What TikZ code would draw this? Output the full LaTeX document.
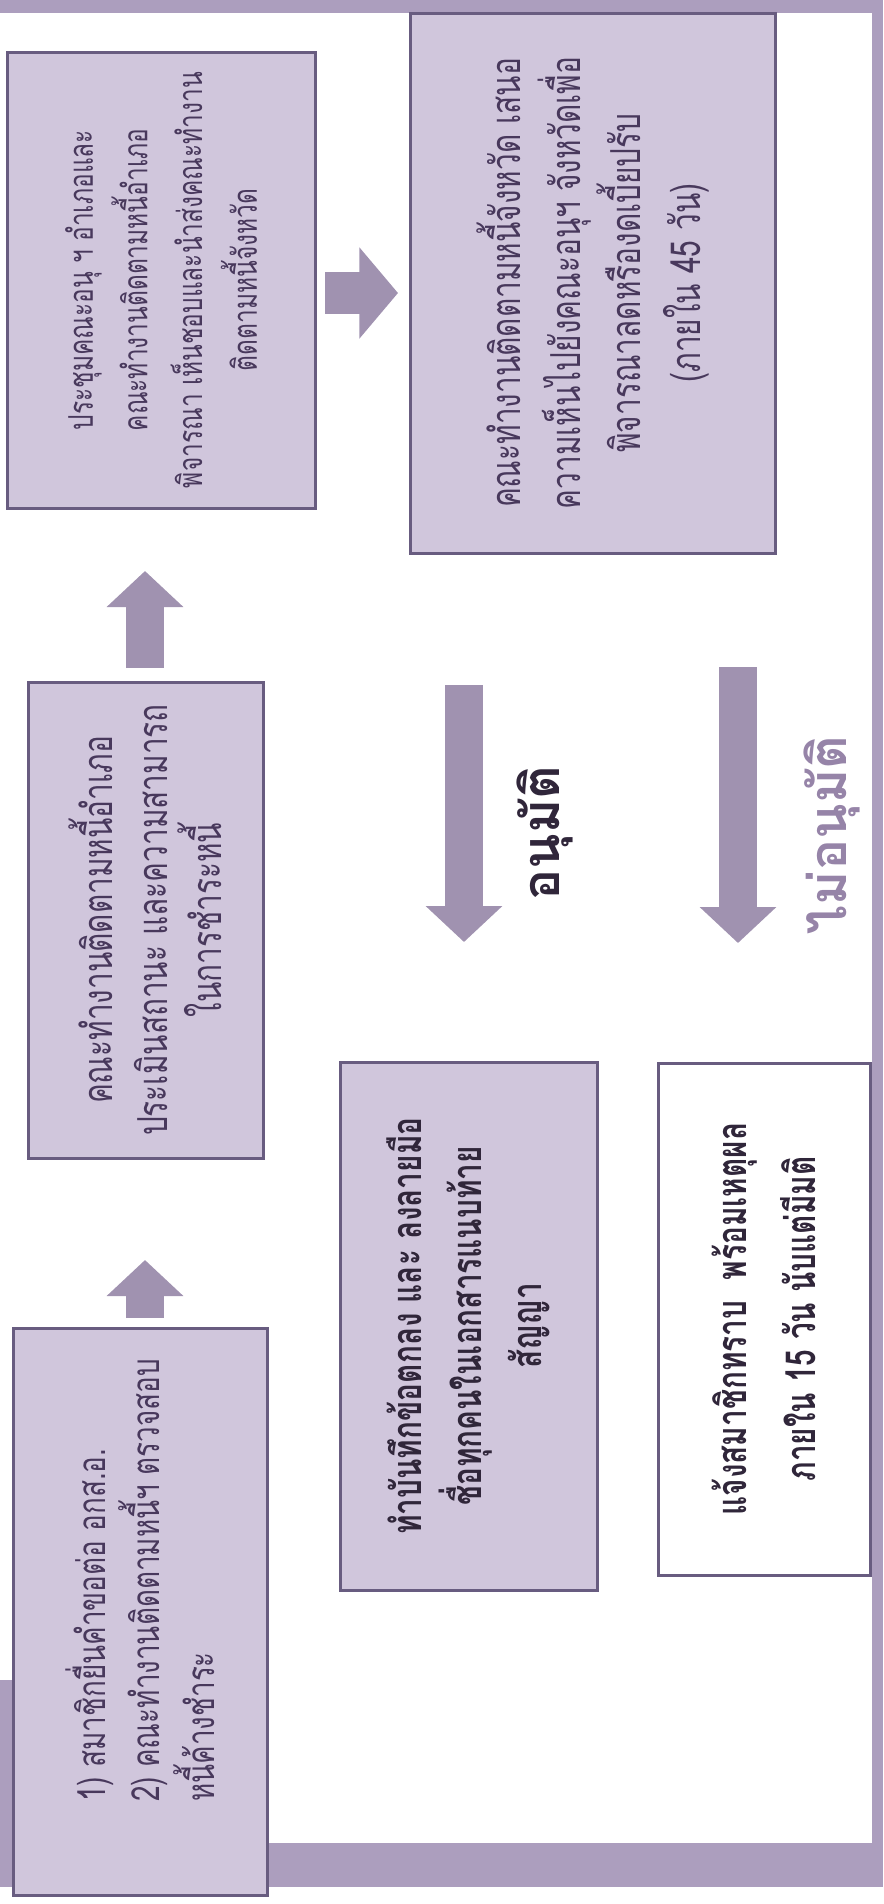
\documentclass[tikz,border=0pt]{standalone}
\usepackage{fontspec}
\newfontfamily\thaifont[Script=Thai,FakeStretch=0.72]{Loma}
\newfontfamily\thailbl[Script=Thai]{Loma}
\usetikzlibrary{arrows.meta,fit}

\definecolor{boxfill}{RGB}{208,198,220}
\definecolor{boxline}{RGB}{104,92,128}
\definecolor{arrowfill}{RGB}{160,146,176}
\definecolor{bandfill}{RGB}{172,158,190}
\definecolor{textcol}{RGB}{72,56,92}
\definecolor{boldcol}{RGB}{48,38,58}
\definecolor{nocol}{RGB}{150,132,168}

\begin{document}
\begin{tikzpicture}[x=0.75pt,y=0.75pt,yscale=-1,xscale=1,
  stepbox/.style={draw=boxline, line width=2.25pt, fill=boxfill, inner sep=0pt},
  boxtext/.style={rotate=90, align=center, inner sep=0pt, text=textcol,
    font=\thaifont\fontsize{31}{41}\selectfont},
  boldtext/.style={boxtext, text=boldcol,
    font=\thaifont\bfseries\fontsize{31}{45}\selectfont},
  lbltext/.style={rotate=90, inner sep=0pt,
    font=\thailbl\bfseries\fontsize{39}{45}\selectfont},
  blockarr/.style={draw=arrowfill, line width=28.5pt,
    -{Triangle[length=27pt,width=56pt]}}]
\useasboundingbox (0,0) rectangle (883,1904);

%Shape: Frame
\fill[bandfill] (0,0) rectangle (883,13);
\fill[bandfill] (872,0) rectangle (883,1887);
\fill[bandfill] (0,1843) rectangle (883,1887);
\fill[bandfill] (0,1680) rectangle (13,1887);

%Shape: Rectangle
\node[stepbox, fit={(13,1328) (267,1895)}] (b1) {};
\node[stepbox, fit={(28,682) (263,1158)}] (b2) {};
\node[stepbox, fit={(7,52) (315,508)}] (b3) {};
\node[stepbox, fit={(410,13) (775,553)}] (b4) {};
\node[stepbox, fit={(340,1062) (597,1590)}] (b5) {};
\node[stepbox, fill=white, fit={(658,1063) (870,1575)}] (b6) {};

% Text Node
\node[boxtext, align=left, anchor=west, font=\thaifont\fontsize{29}{41}\selectfont] (t1) at (140,1802)
  {1) สมาชิกยื่นคำขอต่อ อกส.อ.\\2) คณะทำงานติดตามหนี้ฯ ตรวจสอบ\\หนี้ค้างชำระ};
% Text Node
\node[boxtext] (t2) at (b2)
  {คณะทำงานติดตามหนี้อำเภอ\\ประเมินสถานะ และความสามารถ\\ในการชำระหนี้};
% Text Node
\node[boxtext, font=\thaifont\fontsize{25.5}{41}\selectfont] (t3) at (b3)
  {ประชุมคณะอนุ ฯ อำเภอและ\\คณะทำงานติดตามหนี้อำเภอ\\พิจารณา เห็นชอบและนำส่งคณะทำงาน\\ติดตามหนี้จังหวัด};
% Text Node
\node[boxtext, font=\thaifont\fontsize{31}{45}\selectfont] (t4) at (b4)
  {คณะทำงานติดตามหนี้จังหวัด เสนอ\\ความเห็นไปยังคณะอนุฯ จังหวัดเพื่อ\\พิจารณาลดหรืองดเบี้ยปรับ\\(ภายใน 45 วัน)};
% Text Node
\node[boldtext] (t5) at (b5)
  {ทำบันทึกข้อตกลง และ ลงลายมือ\\ชื่อทุกคนในเอกสารแนบท้าย\\สัญญา};
% Text Node
\node[boldtext, font=\thaifont\bfseries\fontsize{31}{52}\selectfont] (t6) at (b6)
  {แจ้งสมาชิกทราบ\ \ พร้อมเหตุผล\\ภายใน 15 วัน นับแต่มีมติ};
% Text Node
\node[lbltext, text=boldcol] (lok) at (545,833) {อนุมัติ};
% Text Node
\node[lbltext, text=nocol] (lno) at (832,835) {ไม่อนุมัติ};

%Block Arrows
\coordinate (a12s) at (145,1318);
\coordinate (a12e) at (145,1260);
\coordinate (a23s) at (145,668);
\coordinate (a23e) at (145,571);
\coordinate (a34s) at (325,293);
\coordinate (a34e) at (398,293);
\coordinate (aoks) at (464,685);
\coordinate (aoke) at (464,942);
\coordinate (anos) at (738,667);
\coordinate (anoe) at (738,943);
\draw[blockarr] (a12s) -- (a12e);
\draw[blockarr] (a23s) -- (a23e);
\draw[blockarr, line width=31.5pt, -{Triangle[length=29pt,width=67pt]}] (a34s) -- (a34e);
\draw[blockarr] (aoks) -- (aoke);
\draw[blockarr] (anos) -- (anoe);
\end{tikzpicture}
\end{document}
